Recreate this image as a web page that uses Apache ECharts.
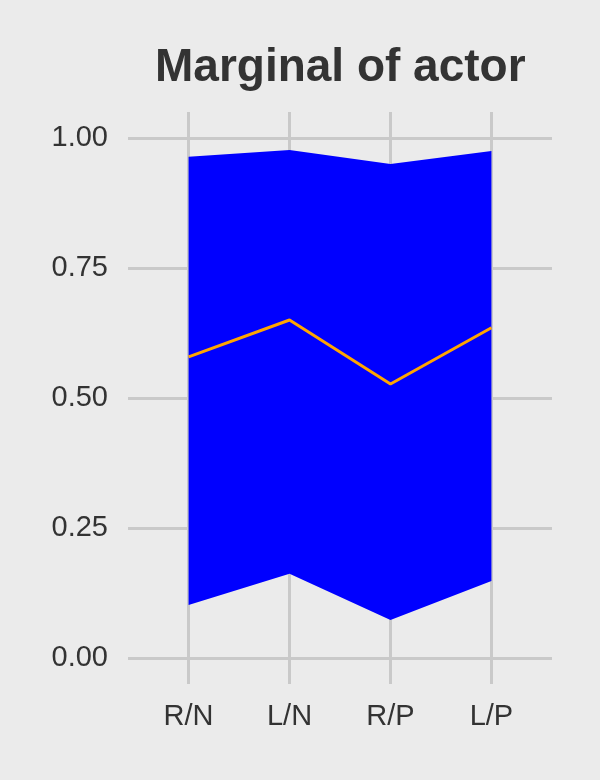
<!DOCTYPE html>
<html><head><meta charset="utf-8">
<script src="https://cdn.jsdelivr.net/npm/echarts@6/dist/echarts.min.js"></script>
<style>html,body{margin:0;padding:0;background:#EBEBEB;}#c{width:600px;height:780px;}</style>
</head><body><div id="c"></div>
<script>
const categories = ['R/N', 'L/N', 'R/P', 'L/P'];
const lowerValues = [0.102, 0.162, 0.073, 0.148];
const upperValues = [0.964, 0.977, 0.950, 0.975];
const meanValues = [0.579, 0.650, 0.527, 0.635];
const yTicks = [0, 0.25, 0.5, 0.75, 1];
const xTicks = [1, 2, 3, 4];

const xs = categories.map((c, i) => i + 1);
const bandData = xs.map((x, i) => [x, lowerValues[i], upperValues[i]]);
const meanData = xs.map((x, i) => [x, meanValues[i]]);

const chart = echarts.init(document.getElementById('c'), null, {renderer: 'canvas'});
const font = 'Liberation Sans, Arial, Helvetica, sans-serif';
chart.setOption({
  backgroundColor: '#EBEBEB',
  animation: false,
  title: {
    text: 'Marginal of actor',
    left: 150, top: 40,
    textStyle: {fontFamily: font, fontSize: 46, fontWeight: 'bold', color: '#333333'}
  },
  grid: {left: 128, right: 48, top: 112, bottom: 96, containLabel: false},
  xAxis: {
    type: 'value', min: 0.4, max: 4.6,
    axisLine: {show: false},
    axisTick: {show: false, customValues: xTicks},
    axisLabel: {customValues: xTicks, formatter: v => categories[Math.round(v) - 1] || '',
      fontFamily: font, fontSize: 29, color: '#333333', margin: 18},
    splitLine: {show: true, lineStyle: {color: '#C9C9C9', width: 3}}
  },
  yAxis: {
    type: 'value', min: -0.05, max: 1.05,
    axisLine: {show: false},
    axisTick: {show: false, customValues: yTicks},
    axisLabel: {customValues: yTicks, formatter: v => v.toFixed(2),
      fontFamily: font, fontSize: 29, color: '#333333', margin: 20},
    splitLine: {show: true, lineStyle: {color: '#C9C9C9', width: 3}}
  },
  series: [
    {type: 'custom', data: bandData, silent: true, z: 2,
      renderItem: function (params, api) {
        if (params.dataIndex !== 0) return null;
        const top = bandData.map(d => api.coord([d[0], d[2]]));
        const bottom = bandData.map(d => api.coord([d[0], d[1]])).reverse();
        return {type: 'polygon', shape: {points: top.concat(bottom)},
          style: {fill: '#0000FF', stroke: null}};
      }},
    {type: 'line', data: meanData, symbol: 'none',
      lineStyle: {color: '#FFA500', width: 3}, z: 5}
  ]
});
</script></body></html>
